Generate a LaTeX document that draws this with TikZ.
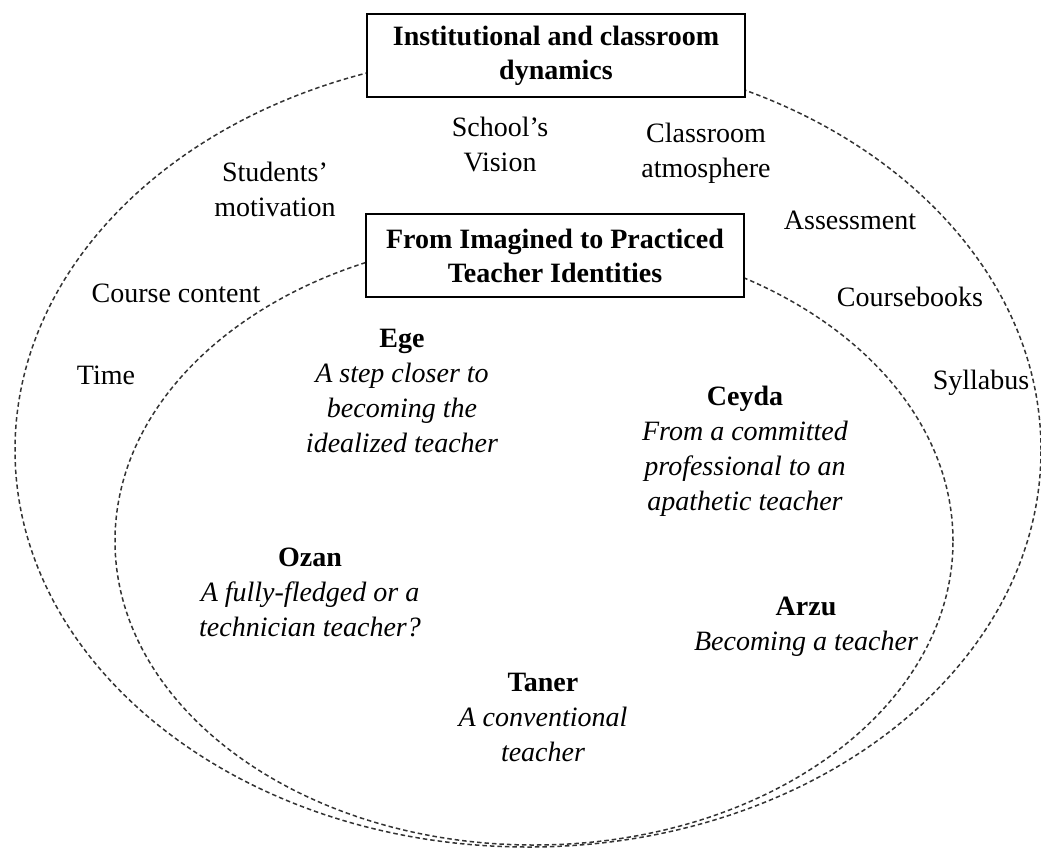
\documentclass[tikz,border=0pt]{standalone}
\usepackage{fontspec}
\setmainfont{Liberation Serif}
\begin{document}
\begin{tikzpicture}[x=1pt, y=-1pt,
    every node/.style={align=center, inner sep=0pt, font=\fontsize{28}{35}\selectfont},
    ring/.style={dash pattern=on 4.5pt off 3pt, line width=1.5pt, black!80},
    theme/.style={draw, fill=white, line width=1.4pt, minimum width=378pt, minimum height=83pt, font=\fontsize{28}{34}\selectfont\bfseries},
    teacher/.style={font=\fontsize{28}{35}\selectfont\itshape}]
        \useasboundingbox (0,0) rectangle (1041,847);
        % the two fields
        \draw[ring] (528,450) ellipse [x radius=513pt, y radius=397pt];
        \draw[ring] (534,541) ellipse [x radius=419pt, y radius=304pt];
        % headings
        \node[theme] (inst) at (556,55.5) {Institutional and classroom\\dynamics};
        \node[theme] (ident) at (555,255.5) {From Imagined to Practiced\\Teacher Identities};
        % outer factors
        \node (vision) at (500,144) {School's\\Vision};
        \node (atmos) at (706,153) {Classroom\\atmosphere};
        \node (motiv) at (275,189) {Students'\\motivation};
        \node (assess) at (850,220) {Assessment};
        \node (content) at (176,293) {Course content};
        \node (books) at (910,297) {Coursebooks};
        \node (time) at (106,375) {Time};
        \node (syll) at (981,383) {Syllabus};
        % participants
        \node[teacher] (ege) at (402,391) {{\upshape\bfseries Ege}\\A step closer to\\becoming the\\idealized teacher};
        \node[teacher] (ceyda) at (745,451) {{\upshape\bfseries Ceyda}\\From a committed\\professional to an\\apathetic teacher};
        \node[teacher] (ozan) at (310,592) {{\upshape\bfseries Ozan}\\A fully-fledged or a\\technician teacher?};
        \node[teacher] (arzu) at (806,627) {{\upshape\bfseries Arzu}\\Becoming a teacher};
        \node[teacher] (taner) at (543,717) {{\upshape\bfseries Taner}\\A conventional\\teacher};
    \end{tikzpicture}
\end{document}
